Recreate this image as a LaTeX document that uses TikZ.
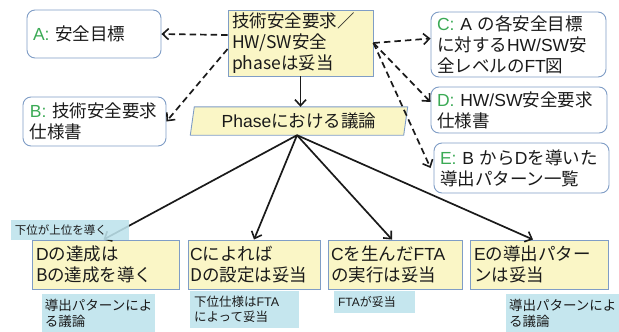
\documentclass[tikz,border=0pt]{standalone}
\usepackage{fontspec}
\setmainfont{Liberation Sans}
\newfontfamily\cjkfont{Noto Sans CJK JP}
\XeTeXinterchartokenstate=1
\newXeTeXintercharclass\CJKcls
\newcount\cc
\def\setcls#1#2{\cc=#1\relax\loop\XeTeXcharclass\cc=\CJKcls\relax\ifnum\cc<#2\advance\cc by 1\repeat}
\setcls{"3000}{"30FF}
\setcls{"4E00}{"9FFF}
\setcls{"FF01}{"FF60}
\XeTeXinterchartoks 0 \CJKcls = {\cjkfont}
\XeTeXinterchartoks 4095 \CJKcls = {\cjkfont}
\XeTeXinterchartoks \CJKcls 0 = {\rmfamily}
\usetikzlibrary{arrows.meta,backgrounds}
\definecolor{bord}{HTML}{7F9DC6}
\definecolor{yel}{HTML}{FAF6C6}
\definecolor{note}{HTML}{BDE3EC}
\definecolor{lblgreen}{HTML}{3BAA55}
\definecolor{ink}{HTML}{1A1A1A}
\newcommand{\lbl}[1]{\textcolor{lblgreen}{#1}}
\tikzset{
  bigtxt/.style={font=\fontsize{17.5}{21}\selectfont, text=ink, align=left},
  ybox/.style={bigtxt, draw=bord, fill=yel, line width=0.9pt, inner ysep=2pt},
  rbox/.style={bigtxt, draw=bord, fill=white, line width=0.9pt, rounded corners=8pt, inner ysep=2pt},
  notebox/.style={fill=note, fill opacity=0.88, text opacity=1, text=ink, align=left, inner ysep=1pt},
  dasharrow/.style={dashed, dash pattern=on 6.5pt off 4pt, line width=1.7pt, ink, -{Straight Barb[length=6pt,width=11pt,line width=1.6pt]}},
  solidarrow/.style={line width=1.7pt, ink, -{Straight Barb[length=6pt,width=11pt,line width=1.6pt]}},
}
\begin{document}
\begin{tikzpicture}[x=1pt,y=-1pt]
\useasboundingbox (0,0) rectangle (619,332);
% top node
\node[ybox, minimum width=145, minimum height=66, text width=137, inner xsep=4] (top) at (300.5,43)
  {技術安全要求／\\HW/SW安全\\phaseは妥当};
% left rounded boxes
\node[rbox, minimum width=134, minimum height=48, text width=122, inner xsep=6] (A) at (94,34)
  {\lbl{A:} 安全目標};
\node[rbox, minimum width=143, minimum height=49, text width=129, inner xsep=7] (B) at (94.5,121.5)
  {\lbl{B:} 技術安全要求\\仕様書};
% right rounded boxes
\node[rbox, minimum width=175, minimum height=65, text width=163, inner xsep=6] (C) at (518.5,44.5)
  {\lbl{C:} A の各安全目標\\に対するHW/SW安\\全レベルのFT図};
\node[rbox, minimum width=176, minimum height=46, text width=164, inner xsep=6] (D) at (519,110)
  {\lbl{D:} HW/SW安全要求\\仕様書};
\node[rbox, minimum width=175, minimum height=50, text width=163, inner xsep=5] (E) at (521.5,168)
  {\lbl{E:} B からDを導いた\\導出パターン一覧};
% phase node
\node[bigtxt, minimum width=213, minimum height=28, inner sep=0pt] (phase) at (299,121) {Phaseにおける議論};
\begin{scope}[on background layer]
\draw[draw=bord, fill=yel, line width=0.9pt]
  ([xshift=2pt]phase.north west) -- ([xshift=2pt]phase.north east) --
  ([xshift=-2pt]phase.south east) -- ([xshift=-2pt]phase.south west) -- cycle;
\end{scope}
% bottom boxes
\node[ybox, minimum width=147, minimum height=49, text width=139, inner xsep=4] (b1) at (105.5,264.5)
  {Dの達成は\\Bの達成を導く};
\node[ybox, minimum width=132, minimum height=49, text width=128, inner xsep=2] (b2) at (254,264.5)
  {Cによれば\\Dの設定は妥当};
\node[ybox, minimum width=134, minimum height=49, text width=128, inner xsep=3] (b3) at (395,264.5)
  {Cを生んだFTA\\の実行は妥当};
\node[ybox, minimum width=138, minimum height=49, text width=130, inner xsep=4] (b4) at (539,264.5)
  {Eの導出パター\\ンは妥当};
% dashed arrows
\draw[dasharrow] ([yshift=8pt]top.west) -- (A.east);
\draw[dasharrow] ([yshift=-6pt]top.west) -- (B.east);
\draw[dasharrow] (top.east) -- ([yshift=6pt]C.west);
\draw[dasharrow] (top.east) -- ([yshift=8pt]D.west);
\draw[dasharrow] (top.east) -- ([xshift=-3pt]E.west);
% solid arrows
\draw[solidarrow] (top.south) -- (top.south |- phase.north);
\draw[solidarrow] ([xshift=-2pt]phase.south) -- ([xshift=-2pt]b1.north);
\draw[solidarrow] ([xshift=-2pt]phase.south) -- (b2.north);
\draw[solidarrow] ([xshift=-2pt]phase.south) -- ([xshift=-3pt]b3.north);
\draw[solidarrow] ([xshift=-2pt]phase.south) -- ([xshift=-6pt]b4.north);
% notes
\node[notebox, font=\fontsize{11.5}{14}\selectfont, minimum width=118, minimum height=20, text width=110, inner xsep=4] (n1) at (70,230)
  {下位が上位を導く};
\node[notebox, font=\fontsize{13.5}{16}\selectfont, minimum width=113, minimum height=38, text width=107, inner xsep=3] (n2) at (98.5,313)
  {導出パターンによ\\る議論};
\node[notebox, font=\fontsize{12.5}{15.5}\selectfont, minimum width=109, minimum height=37, text width=101, inner xsep=4] (n3) at (244.5,309.5)
  {下位仕様はFTA\\によって妥当};
\node[notebox, font=\fontsize{12}{14}\selectfont, minimum width=81, minimum height=22, text width=73, inner xsep=4] (n4) at (374.5,302)
  {FTAが妥当};
\node[notebox, font=\fontsize{13.5}{16}\selectfont, minimum width=113, minimum height=38, text width=107, inner xsep=3] (n5) at (562.5,313)
  {導出パターンによ\\る議論};
\end{tikzpicture}
\end{document}
